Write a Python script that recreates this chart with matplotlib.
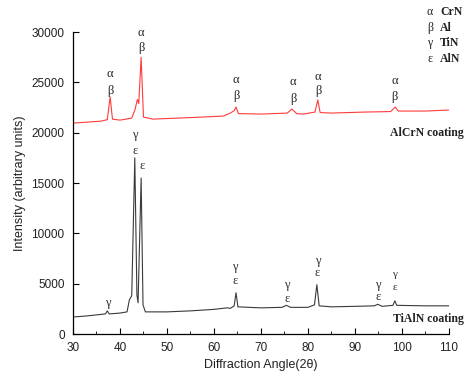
import matplotlib
matplotlib.use("Agg")
import matplotlib.pyplot as plt
from matplotlib.ticker import MultipleLocator

plt.rcParams["font.family"] = ["Liberation Sans", "DejaVu Sans"]

# AlCrN coating trace (2theta, intensity)
alcrn_angle = [30, 33, 36, 37.3, 37.9, 38.4, 40, 42.5, 43.2, 43.7, 44.0, 44.5, 45.0,
               47, 55, 62, 63.5, 64.3, 64.7, 65.2, 70, 75.6, 76.6, 77.6, 79,
               81.5, 82.1, 82.6, 85, 92, 97.6, 98.6, 99.2, 105, 110]
alcrn_int = [20950, 21050, 21150, 21300, 23550, 21350, 21250, 21450, 22300, 23300, 22900, 27500, 21550,
             21350, 21500, 21650, 21950, 22200, 22550, 21900, 21850, 21950, 22350, 21900, 21850,
             22050, 23250, 22000, 21950, 22050, 22100, 22550, 22150, 22150, 22250]

# TiAlN coating trace
tialn_angle = [30, 33, 36, 36.9, 37.3, 37.7, 40, 41.5, 42.0, 42.5, 43.15, 43.6, 43.85, 44.5,
               44.9, 45.4, 50, 55, 60, 62.8, 63.5, 64.3, 64.7, 65.1, 70, 74.5, 75.4, 76.3,
               80, 81.4, 81.9, 82.4, 85, 90, 94.1, 94.9, 95.8, 98.1, 98.5, 98.9, 105, 110]
tialn_int = [1690, 1800, 1950, 2000, 2300, 2000, 2080, 2200, 3400, 3800, 17500, 3900, 3100, 15500,
             2900, 2200, 2200, 2300, 2450, 2600, 2550, 2800, 4100, 2700, 2600, 2650, 2850, 2650,
             2650, 2900, 4900, 2800, 2700, 2750, 2800, 2950, 2750, 2850, 3300, 2850, 2800, 2800]

fig = plt.figure(figsize=(4.71, 3.77), dpi=100)
ax = fig.add_axes([0.155, 0.114, 0.798, 0.801])

ax.plot(alcrn_angle, alcrn_int, color="#ff3b3b", lw=0.8)
ax.plot(tialn_angle, tialn_int, color="#3a3a3a", lw=0.8)

ax.set_xlim(30, 110)
ax.set_ylim(0, 30000)
ax.xaxis.set_major_locator(MultipleLocator(10))
ax.xaxis.set_minor_locator(MultipleLocator(5))
ax.yaxis.set_major_locator(MultipleLocator(5000))
ax.tick_params(direction="in", labelsize=8.5, length=4, pad=6, labelcolor="#222222")
ax.tick_params(which="minor", direction="in", length=2.5)
for s in ("top", "right"):
    ax.spines[s].set_visible(False)
for s in ("left", "bottom"):
    ax.spines[s].set_linewidth(0.9)

ax.set_xlabel("Diffraction Angle(2θ)", fontsize=9, labelpad=3, color="#222222")
ax.set_ylabel("Intensity (arbitrary units)", fontsize=9, labelpad=4, color="#222222")

serif = ["Liberation Serif", "DejaVu Serif"]
lab = dict(family=serif, ha="center", va="center", clip_on=False)

# peak labels on the AlCrN trace
for x, ya, yb in [(37.9, 25820, 24130), (44.5, 29890, 28400), (64.7, 25220, 23630),
                  (76.8, 25020, 23340), (82.2, 25520, 24130), (98.5, 25120, 23530)]:
    ax.text(x, ya, "α", color="#222222", fontsize=9, **lab)
    ax.text(x, yb, "β", color="#222222", fontsize=9, **lab)

# peak labels on the TiAlN trace (last pair sits tighter, slightly smaller)
tl = [(37.3, 3080, "γ", 9), (43.2, 19760, "γ", 9), (43.2, 18170, "ε", 9), (44.7, 16680, "ε", 9),
      (64.5, 6650, "γ", 9), (64.5, 5260, "ε", 9), (75.5, 4870, "γ", 9), (75.6, 3480, "ε", 9),
      (82.0, 7250, "γ", 9), (82.0, 6060, "ε", 9), (94.9, 4870, "γ", 9), (94.9, 3670, "ε", 9),
      (98.5, 5900, "γ", 8), (98.6, 4650, "ε", 8)]
for x, y, t, fs in tl:
    ax.text(x, y, t, color="#333333", fontsize=fs, **lab)

ax.text(113.2, 19960, "AlCrN coating", fontsize=8.5, family=serif, fontweight="bold",
        ha="right", va="center", clip_on=False, color="#222222")
ax.text(113.2, 1490, "TiAlN coating", fontsize=8.5, family=serif, fontweight="bold",
        ha="right", va="center", clip_on=False, color="#222222")

# key in the top right corner
for i, (g, name) in enumerate([("α", "CrN"), ("β", "Al"), ("γ", "TiN"), ("ε", "AlN")]):
    y = 1 - (12 + 15.7 * i) / 377
    fig.text(430 / 471, y, g, fontsize=8.5, family=serif, ha="center", va="center", color="#222222")
    fig.text(440 / 471, y, name, fontsize=8.5, family=serif, fontweight="bold",
             ha="left", va="center", color="#222222")

fig.savefig("out.png", dpi=100)
